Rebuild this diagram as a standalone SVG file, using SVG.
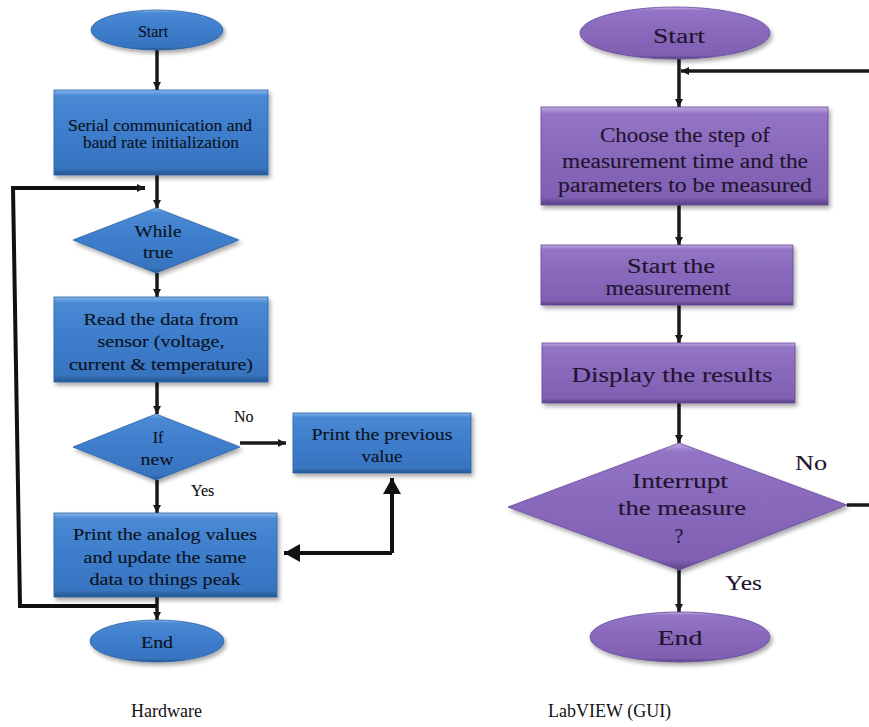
<svg xmlns="http://www.w3.org/2000/svg" width="869" height="727" viewBox="0 0 869 727" font-family="'Liberation Serif', 'Times New Roman', serif">
<defs>
<linearGradient id="gb" x1="0" y1="0" x2="0" y2="1">
<stop offset="0" stop-color="#86b5ec"/>
<stop offset="0.07" stop-color="#4a89d4"/>
<stop offset="0.5" stop-color="#3d7dcb"/>
<stop offset="0.92" stop-color="#3874c0"/>
<stop offset="1" stop-color="#25568f"/>
</linearGradient>
<linearGradient id="gp" x1="0" y1="0" x2="0" y2="1">
<stop offset="0" stop-color="#c2aae2"/>
<stop offset="0.07" stop-color="#9374c5"/>
<stop offset="0.5" stop-color="#8868bb"/>
<stop offset="0.92" stop-color="#8060b2"/>
<stop offset="1" stop-color="#5c4086"/>
</linearGradient>
<filter id="sh" x="-10%" y="-10%" width="125%" height="130%">
<feDropShadow dx="2" dy="3" stdDeviation="2" flood-color="#000" flood-opacity="0.35"/>
</filter>
<marker id="ah" markerUnits="userSpaceOnUse" markerWidth="10" markerHeight="10" refX="8" refY="5" orient="auto">
<path d="M0,1 L8,5 L0,9 Z" fill="#1a1a1a"/>
</marker>
<marker id="ahb" markerUnits="userSpaceOnUse" markerWidth="18" markerHeight="20" refX="16" refY="10" orient="auto">
<path d="M0,1 L16,10 L0,19 Z" fill="#111"/>
</marker>
</defs>
<style>
.b{fill:url(#gb);stroke:#2c62a6;stroke-width:0.8;filter:url(#sh)}
.p{fill:url(#gp);stroke:#64489a;stroke-width:0.8;filter:url(#sh)}
text{font-family:'Liberation Serif','Times New Roman',serif}
.tb{font-size:16px;fill:#0a1220;stroke:#0a1220;stroke-width:0.12;text-anchor:middle}
.tp{font-size:20px;fill:#22142f;stroke:#22142f;stroke-width:0.12;text-anchor:middle}
.lb{font-size:16px;fill:#111;stroke:#111;stroke-width:0.12}
.lp{font-size:20px;fill:#22142f;stroke:#22142f;stroke-width:0.12}
.cap{font-size:18px;fill:#111}
.c{fill:none;stroke:#1a1a1a;stroke-width:3.5}
.cb{fill:none;stroke:#111;stroke-width:4}
</style>

<g id="connectors">
<line class="c" x1="157" y1="50" x2="157" y2="90" marker-end="url(#ah)"/>
<line class="c" x1="157" y1="175" x2="157" y2="208" marker-end="url(#ah)"/>
<line class="c" x1="157" y1="273" x2="157" y2="297" marker-end="url(#ah)"/>
<line class="c" x1="157" y1="382" x2="157" y2="414" marker-end="url(#ah)"/>
<line class="c" x1="157" y1="480" x2="157" y2="513" marker-end="url(#ah)"/>
<line class="c" x1="157" y1="597" x2="157" y2="620" marker-end="url(#ah)"/>
<polyline class="cb" points="157,606 20,606 13,188 145,188" marker-end="url(#ah)"/>
<line class="c" x1="240" y1="443" x2="286" y2="443" marker-end="url(#ah)"/>
<polyline class="cb" points="392,553 392,478" marker-end="url(#ahb)"/>
<polyline class="cb" points="392,553 284,553" marker-end="url(#ahb)"/>
<line class="c" x1="679" y1="59" x2="679" y2="107" marker-end="url(#ah)"/>
<line class="c" x1="679" y1="205" x2="679" y2="245" marker-end="url(#ah)"/>
<line class="c" x1="679" y1="305" x2="679" y2="343" marker-end="url(#ah)"/>
<line class="c" x1="679" y1="403" x2="679" y2="443" marker-end="url(#ah)"/>
<line class="c" x1="679" y1="570" x2="679" y2="612" marker-end="url(#ah)"/>
<line class="c" x1="869" y1="71" x2="681" y2="71" marker-end="url(#ah)"/>
<line class="c" x1="847" y1="505" x2="869" y2="505"/>
</g>

<g id="hw-start">
<ellipse class="b" cx="157" cy="30" rx="66" ry="20"/>
<text class="tb" x="153" y="37">Start</text>
</g>
<g id="hw-init">
<rect class="b" x="54" y="90" width="214" height="85"/>
<text class="tb" x="160" y="131" textLength="184" lengthAdjust="spacingAndGlyphs">Serial communication and</text>
<text class="tb" x="161" y="148" textLength="156" lengthAdjust="spacingAndGlyphs">baud rate initialization</text>
</g>
<g id="hw-while">
<polygon class="b" points="156,208 239,240 156,273 73,240"/>
<text class="tb" x="158" y="237" textLength="47" lengthAdjust="spacingAndGlyphs">While</text>
<text class="tb" x="158" y="258" textLength="30" lengthAdjust="spacingAndGlyphs">true</text>
</g>
<g id="hw-read">
<rect class="b" x="54" y="297" width="214" height="85"/>
<text class="tb" x="161" y="325" textLength="155" lengthAdjust="spacingAndGlyphs">Read the data from</text>
<text class="tb" x="161" y="347" textLength="127" lengthAdjust="spacingAndGlyphs">sensor (voltage,</text>
<text class="tb" x="161" y="370" textLength="184" lengthAdjust="spacingAndGlyphs">current &amp; temperature)</text>
</g>
<g id="hw-ifnew">
<polygon class="b" points="156,414 240,447 156,480 73,447"/>
<text class="tb" x="158" y="443">If</text>
<text class="tb" x="157" y="465" textLength="33" lengthAdjust="spacingAndGlyphs">new</text>
</g>
<g id="hw-prev">
<rect class="b" x="293" y="413" width="178" height="60"/>
<text class="tb" x="382" y="440" textLength="141" lengthAdjust="spacingAndGlyphs">Print the previous</text>
<text class="tb" x="382" y="462" textLength="41" lengthAdjust="spacingAndGlyphs">value</text>
</g>
<g id="hw-print">
<rect class="b" x="54" y="513" width="223" height="84"/>
<text class="tb" x="165" y="540" textLength="184" lengthAdjust="spacingAndGlyphs">Print the analog values</text>
<text class="tb" x="165" y="563" textLength="163" lengthAdjust="spacingAndGlyphs">and update the same</text>
<text class="tb" x="165" y="585" textLength="151" lengthAdjust="spacingAndGlyphs">data to things peak</text>
</g>
<g id="hw-end">
<ellipse class="b" cx="157" cy="641" rx="67" ry="21"/>
<text class="tb" x="157" y="648" textLength="32" lengthAdjust="spacingAndGlyphs">End</text>
</g>
<g id="hw-labels">
<text class="lb" x="234" y="422">No</text>
<text class="lb" x="191" y="496">Yes</text>
</g>

<g id="gui-start">
<ellipse class="p" cx="675" cy="33" rx="95" ry="26"/>
<text class="tp" x="679" y="43" textLength="52" lengthAdjust="spacingAndGlyphs">Start</text>
</g>
<g id="gui-choose">
<rect class="p" x="541" y="107" width="287" height="98"/>
<text class="tp" x="685" y="142" textLength="170" lengthAdjust="spacingAndGlyphs">Choose the step of</text>
<text class="tp" x="685" y="168" textLength="246" lengthAdjust="spacingAndGlyphs">measurement time and the</text>
<text class="tp" x="685" y="192" textLength="254" lengthAdjust="spacingAndGlyphs">parameters to be measured</text>
</g>
<g id="gui-startmeas">
<rect class="p" x="541" y="245" width="252" height="60"/>
<text class="tp" x="671" y="273" textLength="88" lengthAdjust="spacingAndGlyphs">Start the</text>
<text class="tp" x="668" y="295" textLength="125" lengthAdjust="spacingAndGlyphs">measurement</text>
</g>
<g id="gui-display">
<rect class="p" x="542" y="343" width="253" height="60"/>
<text class="tp" x="672" y="382" font-size="22" style="font-size:22px" textLength="201" lengthAdjust="spacingAndGlyphs">Display the results</text>
</g>
<g id="gui-interrupt">
<polygon class="p" points="679,443 847,505 679,570 508,507"/>
<text class="tp" x="680" y="488" textLength="96" lengthAdjust="spacingAndGlyphs">Interrupt</text>
<text class="tp" x="682" y="515" textLength="128" lengthAdjust="spacingAndGlyphs">the measure</text>
<text class="tp" x="679" y="543">?</text>
</g>
<g id="gui-end">
<ellipse class="p" cx="680" cy="637" rx="90" ry="25"/>
<text class="tp" x="680" y="645" textLength="45" lengthAdjust="spacingAndGlyphs">End</text>
</g>
<g id="gui-labels">
<text class="lp" x="795" y="470" textLength="32" lengthAdjust="spacingAndGlyphs">No</text>
<text class="lp" x="725" y="590" textLength="37" lengthAdjust="spacingAndGlyphs">Yes</text>
</g>

<g id="captions">
<text class="cap" x="131" y="717">Hardware</text>
<text class="cap" x="548" y="717">LabVIEW (GUI)</text>
</g>
</svg>
